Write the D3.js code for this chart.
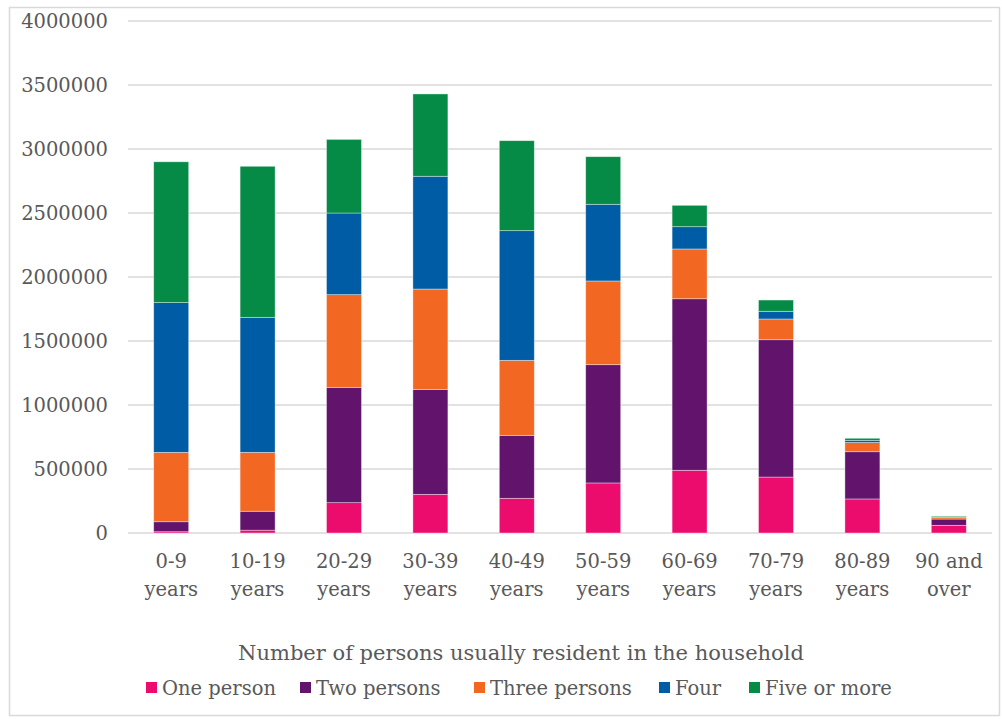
<!DOCTYPE html>
<html>
<head>
<meta charset="utf-8">
<script src="https://cdn.jsdelivr.net/npm/d3@7"></script>
<style>
  body { margin: 0; background: #fff; }
  text { font-family: "DejaVu Serif", Cambria, serif; fill: #595959; }
</style>
</head>
<body>
<script>
// chart data
var ageGroups = ["0-9|years", "10-19|years", "20-29|years", "30-39|years", "40-49|years",
  "50-59|years", "60-69|years", "70-79|years", "80-89|years", "90 and|over"];
var seriesNames = ["One person", "Two persons", "Three persons", "Four", "Five or more"];
var onePerson   = [10000, 22000, 237000, 302000, 271000, 391000, 490000, 437000, 266000, 60000];
var twoPersons  = [78000, 148000, 901000, 820000, 492000, 924000, 1340000, 1073000, 369000, 49000];
var threePersons= [542000, 460000, 724000, 784000, 586000, 654000, 389000, 162000, 72000, 13000];
var fourPersons = [1170000, 1055000, 638000, 881000, 1013000, 599000, 174000, 60000, 17000, 5000];
var fiveOrMore  = [1100000, 1180000, 575000, 643000, 703000, 372000, 167000, 88000, 16000, 6000];
var yTicks = [0, 500000, 1000000, 1500000, 2000000, 2500000, 3000000, 3500000, 4000000];
var colors = ["#EC0C6E", "#62146D", "#F26722", "#005CA4", "#058B45"];

var svgWidth = 1002;
var svgHeight = 719;

var plot = { left: 128, right: 992, top: 21, bottom: 533 };

var svg = d3.select("body")
  .append("svg")
  .attr("width", svgWidth)
  .attr("height", svgHeight);

// outer chart border
svg.append("rect")
  .attr("x", 9.5)
  .attr("y", 7.5)
  .attr("width", 990)
  .attr("height", 708)
  .attr("fill", "#fff")
  .attr("stroke", "#D9D9D9")
  .attr("stroke-width", 1.5);

// build rows for the stack
var rows = ageGroups.map(function(g, i) {
  return {
    group: g,
    "One person": onePerson[i],
    "Two persons": twoPersons[i],
    "Three persons": threePersons[i],
    "Four": fourPersons[i],
    "Five or more": fiveOrMore[i]
  };
});

var stacked = d3.stack().keys(seriesNames)(rows);

var xScale = d3.scaleBand()
  .domain(ageGroups)
  .range([plot.left, plot.right])
  .paddingInner(0.595)
  .paddingOuter(0.2975);

var yScale = d3.scaleLinear()
  .domain([0, 4000000])
  .range([plot.bottom, plot.top]);

// gridlines
svg.append("g")
  .selectAll("line")
  .data(yTicks)
  .enter()
  .append("line")
  .attr("x1", plot.left)
  .attr("x2", plot.right)
  .attr("y1", d => yScale(d))
  .attr("y2", d => yScale(d))
  .attr("stroke", "#D9D9D9")
  .attr("stroke-width", 1.5);

// y axis labels
var yAxis = d3.axisLeft(yScale)
  .tickValues(yTicks)
  .tickFormat(d3.format("d"))
  .tickSize(0)
  .tickPadding(20);

var yG = svg.append("g")
  .attr("transform", `translate(${plot.left}, 0)`)
  .call(yAxis);
yG.select(".domain").remove();
yG.selectAll("text")
  .style("font-family", "\"DejaVu Serif\", serif")
  .style("font-size", "19.5px")
  .attr("fill", "#595959");

// bars
svg.append("g")
  .selectAll("g")
  .data(stacked)
  .enter()
  .append("g")
  .attr("fill", (d, i) => colors[i])
  .selectAll("rect")
  .data(d => d)
  .enter()
  .append("rect")
  .attr("x", d => xScale(d.data.group))
  .attr("y", d => yScale(d[1]))
  .attr("width", xScale.bandwidth())
  .attr("height", d => yScale(d[0]) - yScale(d[1]))
  .attr("stroke", "#fff")
  .attr("stroke-opacity", 0.5)
  .attr("stroke-width", 0.75);

// x axis labels (two lines)
var xAxis = d3.axisBottom(xScale).tickSize(0).tickFormat("");
var xG = svg.append("g")
  .attr("transform", `translate(0, ${plot.bottom})`)
  .call(xAxis);
xG.select(".domain").remove();
xG.selectAll(".tick").each(function(d) {
  var parts = d.split("|");
  var t = d3.select(this).append("text")
    .attr("text-anchor", "middle")
    .style("font-size", "19.5px");
  t.append("tspan").attr("x", 0).attr("y", 35).text(parts[0]);
  t.append("tspan").attr("x", 0).attr("y", 63).text(parts[1]);
});

// legend title
svg.append("text")
  .attr("x", 521)
  .attr("y", 660)
  .attr("text-anchor", "middle")
  .style("font-size", "21px")
  .text("Number of persons usually resident in the household");

// legend
var legendX = [146, 300, 474, 659, 749];
var legend = svg.append("g")
  .selectAll("g")
  .data(seriesNames)
  .enter()
  .append("g")
  .attr("transform", (d, i) => `translate(${legendX[i]}, 688)`);

legend.append("rect")
  .attr("x", 0)
  .attr("y", -6)
  .attr("width", 11)
  .attr("height", 11)
  .attr("fill", (d, i) => colors[i]);

legend.append("text")
  .attr("x", 16)
  .attr("y", 7)
  .style("font-size", "19.5px")
  .text(d => d);
</script>
</body>
</html>
